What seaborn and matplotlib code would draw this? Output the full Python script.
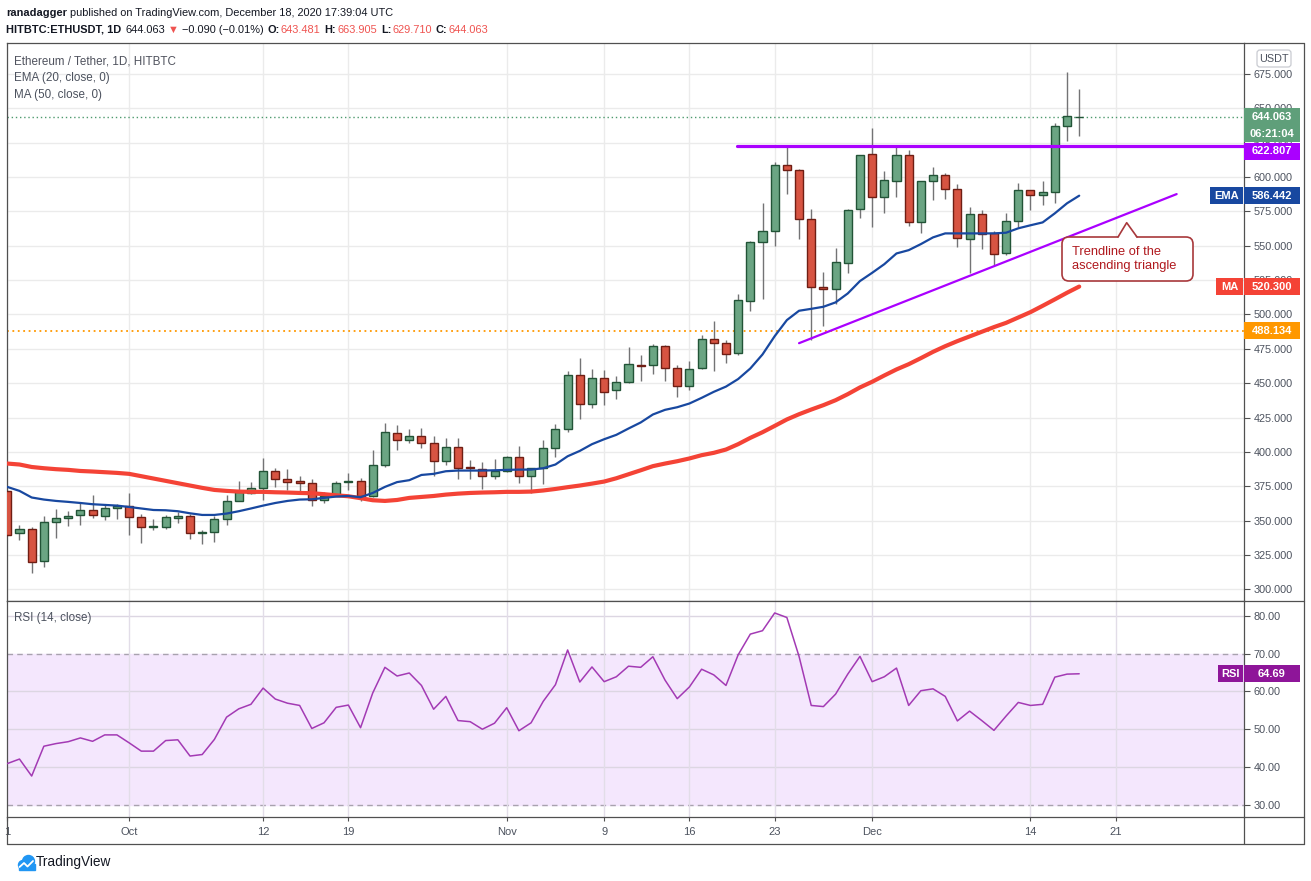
import numpy as np
import pandas as pd
import seaborn as sns
import matplotlib.pyplot as plt
from matplotlib.patches import Rectangle, FancyBboxPatch, Polygon, Circle
from matplotlib.lines import Line2D
from matplotlib.transforms import IdentityTransform

# ---- data (ETH/USDT daily, HitBTC) ----
dates = pd.date_range('2020-09-21', '2020-12-18', freq='D')
opens = [371.4, 340.6, 344.2, 320.9, 349.3, 352.2, 354.4, 358.0, 353.6, 359.5,
         360.4, 352.9, 345.4, 345.4, 352.2, 353.6, 340.6, 342.0, 350.8, 364.6,
         370.4, 374.0, 386.4, 380.6, 379.1, 377.7, 365.3, 368.2, 378.4, 379.1,
         368.2, 390.1, 413.4, 409.0, 411.9, 406.1, 393.0, 403.2, 388.8, 387.2,
         382.8, 386.4, 396.6, 382.8, 387.9, 402.5, 417.0, 456.3, 435.2, 454.1,
         444.7, 450.5, 462.9, 462.9, 476.7, 461.4, 448.3, 460.7, 482.5, 478.9,
         471.6, 509.5, 552.5, 560.5, 608.5, 604.9, 569.2, 519.7, 518.2, 537.2,
         576.5, 616.6, 585.3, 596.9, 615.8, 567.0, 596.9, 601.2, 591.0, 554.7,
         572.9, 559.0, 544.5, 567.7, 590.3, 586.7, 588.9, 636.9, 643.481]
highs = [372.0, 346.6, 345.0, 353.1, 358.2, 356.8, 362.8, 368.4, 362.4, 361.7,
         370.1, 354.6, 351.0, 354.4, 356.3, 355.0, 343.0, 353.1, 368.4, 378.6,
         377.9, 395.2, 387.9, 387.4, 382.3, 379.9, 370.6, 378.6, 384.7, 380.8,
         401.2, 421.1, 419.4, 416.5, 417.2, 411.4, 409.9, 409.9, 393.9, 392.5,
         394.7, 397.3, 404.6, 388.0, 408.3, 420.6, 458.5, 468.0, 460.0, 459.3,
         454.9, 476.2, 470.2, 478.2, 477.5, 462.9, 465.8, 484.7, 495.1, 481.3,
         514.8, 553.6, 581.1, 610.7, 623.3, 605.6, 576.5, 530.6, 548.3, 577.0,
         615.8, 635.7, 604.1, 623.3, 619.4, 597.0, 607.5, 602.7, 594.7, 578.0,
         575.8, 560.5, 573.6, 595.4, 590.8, 596.9, 639.1, 676.5, 663.905]
lows = [339.0, 336.2, 311.9, 316.0, 337.4, 346.0, 346.8, 352.0, 350.3, 350.9,
        339.3, 333.8, 343.2, 343.9, 348.3, 336.6, 333.0, 334.4, 346.8, 364.6,
        369.0, 364.8, 374.5, 372.0, 370.1, 360.6, 362.8, 367.7, 372.0, 364.3,
        366.8, 389.0, 401.2, 406.5, 402.9, 382.5, 390.1, 380.6, 380.6, 373.0,
        380.6, 385.0, 377.5, 370.1, 376.8, 396.3, 414.5, 423.8, 432.0, 434.2,
        438.6, 449.8, 451.7, 457.0, 451.7, 440.0, 445.1, 460.0, 459.0, 464.8,
        470.4, 502.6, 511.4, 550.0, 587.8, 555.1, 481.1, 491.7, 507.3, 530.3,
        570.4, 563.4, 574.0, 585.7, 564.5, 559.0, 583.5, 584.2, 549.3, 530.3,
        548.0, 535.7, 543.0, 563.4, 575.8, 579.4, 580.9, 626.4, 629.710]
closes = [339.8, 344.2, 320.2, 348.6, 352.2, 353.6, 357.5, 354.4, 359.5, 360.4,
          352.7, 345.4, 345.9, 352.9, 353.6, 341.3, 342.0, 350.8, 364.6, 370.6,
          374.0, 386.4, 380.6, 378.4, 377.7, 365.3, 368.2, 377.7, 379.1, 368.2,
          390.1, 414.1, 409.0, 411.9, 406.1, 393.0, 403.2, 388.6, 387.9, 382.8,
          386.4, 396.6, 382.8, 387.9, 402.5, 417.0, 456.3, 435.2, 454.1, 443.9,
          450.5, 463.6, 462.2, 476.7, 460.7, 448.3, 460.0, 482.5, 479.0, 470.9,
          510.2, 552.4, 560.4, 608.5, 604.9, 569.2, 519.7, 518.2, 537.9, 575.7,
          615.8, 585.3, 597.6, 615.8, 567.0, 596.9, 601.2, 591.0, 555.4, 572.9,
          558.3, 543.7, 567.7, 590.3, 586.7, 588.9, 636.9, 644.2, 644.063]
ema20 = [374.5, 371.6, 366.8, 365.3, 364.3, 363.6, 362.8, 361.9, 361.4, 360.9,
         359.9, 358.8, 357.7, 357.5, 356.8, 355.3, 354.1, 354.1, 355.1, 356.8,
         358.8, 360.9, 362.8, 364.3, 365.3, 365.5, 366.5, 367.5, 367.9, 367.0,
         370.1, 374.5, 378.0, 379.4, 383.2, 384.0, 385.9, 386.4, 386.4, 386.4,
         386.6, 386.9, 387.1, 387.1, 388.1, 390.8, 396.8, 400.7, 405.6, 409.2,
         412.4, 417.0, 421.4, 427.2, 430.6, 432.5, 435.2, 439.3, 443.7, 447.5,
         453.0, 460.7, 470.9, 484.2, 495.9, 502.7, 504.1, 505.6, 508.8, 515.3,
         524.3, 530.3, 536.6, 544.4, 546.8, 551.2, 556.1, 559.0, 559.0, 559.0,
         559.0, 559.0, 559.5, 562.7, 564.9, 567.0, 573.6, 580.9, 586.442]
ma50 = [391.5, 390.8, 389.0, 388.1, 387.4, 386.9, 386.1, 385.7, 385.2, 384.7,
        384.0, 382.3, 380.6, 378.9, 377.2, 375.5, 373.8, 372.3, 371.6, 371.1,
        370.9, 370.9, 370.6, 370.4, 370.1, 369.9, 369.2, 368.4, 367.7, 366.3,
        364.8, 364.3, 365.0, 366.5, 367.2, 367.9, 368.9, 369.6, 370.1, 370.4,
        370.6, 370.9, 370.9, 371.1, 371.9, 373.0, 374.3, 375.5, 376.9, 378.4,
        380.8, 383.7, 386.6, 389.6, 391.5, 393.2, 395.2, 397.6, 399.3, 401.7,
        405.6, 410.2, 414.3, 418.9, 423.6, 427.4, 430.8, 434.0, 437.6, 442.0,
        446.9, 451.0, 455.6, 460.0, 463.8, 468.2, 472.8, 476.9, 480.6, 484.0,
        487.4, 490.8, 493.9, 497.8, 501.7, 506.3, 511.0, 515.8, 520.300]
rsi14 = [40.9, 42.1, 37.6, 45.5, 46.2, 46.7, 47.7, 46.8, 48.5, 48.5,
         46.4, 44.2, 44.2, 47.0, 47.2, 42.9, 43.3, 47.3, 53.2, 55.4,
         56.6, 60.9, 58.0, 56.9, 56.3, 50.2, 51.7, 55.8, 56.4, 50.4,
         59.6, 66.4, 64.1, 64.9, 61.6, 55.3, 58.7, 52.3, 52.0, 50.0,
         51.6, 55.7, 49.6, 51.7, 57.4, 61.8, 71.0, 62.5, 66.5, 62.6,
         63.9, 66.7, 66.4, 69.2, 63.0, 58.1, 61.2, 65.9, 64.4, 61.6,
         69.7, 75.2, 76.1, 80.8, 79.6, 69.3, 56.3, 56.0, 59.3, 64.6,
         69.3, 62.6, 63.9, 66.2, 56.3, 60.2, 60.7, 58.7, 52.2, 54.8,
         52.3, 49.7, 53.5, 57.1, 56.3, 56.6, 63.8, 64.6, 64.69]

resistance = 622.807
resistance_from = '2020-11-20'
orange_level = 488.134
trend_dates = ['2020-11-25', '2020-12-26']
trend_prices = [479.1, 587.6]
tick_dates = ['2020-09-21', '2020-10-01', '2020-10-12', '2020-10-19', '2020-11-01',
              '2020-11-09', '2020-11-16', '2020-11-23', '2020-12-01', '2020-12-14',
              '2020-12-21']
tick_labels = ['1', 'Oct', '12', '19', 'Nov', '9', '16', '23', 'Dec', '14', '21']

df = pd.DataFrame({'date': dates, 'open': opens, 'high': highs, 'low': lows,
                   'close': closes, 'ema': ema20, 'ma': ma50, 'rsi': rsi14})
df['x'] = (df['date'] - dates[0]).dt.days


def day_index(d):
    return (pd.Timestamp(d) - dates[0]).days


# ---- figure layout in pixels ----
W, H = 1311, 881
sns.set_theme(style='white')
plt.rcParams['font.family'] = ['Liberation Sans', 'DejaVu Sans']
TXT = '#4c525e'
GRID = '#ebebeb'
FRAME = '#505050'

fig = plt.figure(figsize=(W / 100, H / 100), dpi=100)
fig.patch.set_facecolor('white')
PIX = IdentityTransform()


def fx(px):
    return px / W


def fy(py):
    return 1 - py / H


L, R = 6.7, 1244
ax = fig.add_axes([fx(L), fy(601), fx(R) - fx(L), fy(43) - fy(601)])
axr = fig.add_axes([fx(L), fy(817), fx(R) - fx(L), fy(601) - fy(817)], sharex=ax)

# ---- price pane ----
ax.set_axisbelow(True)
up = df['close'] >= df['open']
body = (df['close'] - df['open']).abs().clip(lower=0.5)
ax.vlines(df['x'], df['low'], df['high'], color='#737375', lw=1, zorder=2)
ax.bar(df['x'][up], body[up], bottom=df['open'][up], width=0.66,
       color='#6ba583', edgecolor='#225437', linewidth=1, zorder=3)
ax.bar(df['x'][~up], body[~up], bottom=df['close'][~up], width=0.66,
       color='#d75442', edgecolor='#6f1e14', linewidth=1, zorder=3)

sns.lineplot(data=df, x='x', y='ma', ax=ax, color='#f44336', lw=3, zorder=4)
sns.lineplot(data=df, x='x', y='ema', ax=ax, color='#1848a0', lw=1.6, zorder=5)

ax.axhline(closes[-1], color='#4e9a6e', ls=(0, (1, 2)), lw=1, zorder=1)
ax.axhline(orange_level, color='#ff9800', ls=(0, (1, 2)), lw=1.3, zorder=1)

res_x0 = day_index(resistance_from) - 0.1
sns.lineplot(x=[res_x0, 110], y=[resistance, resistance], ax=ax,
             color='#aa00ff', lw=2.3, zorder=6)
sns.lineplot(x=[day_index(d) for d in trend_dates], y=trend_prices, ax=ax,
             color='#aa00ff', lw=1.6, zorder=6)

ax.set_xlim(-0.05, 101.53)
ax.set_ylim(291.47, 697.56)
ax.set_yticks(np.arange(300, 700, 25))
ax.set_yticklabels([f'{v:.3f}' for v in np.arange(300, 700, 25)])
ax.yaxis.tick_right()
ax.tick_params(axis='y', right=True, length=4, width=0.8, color=FRAME,
               labelsize=7.8, labelcolor=TXT, pad=3)
ax.tick_params(axis='x', bottom=False, labelbottom=False)
ax.grid(True, color=GRID, lw=1)
ax.set_xlabel('')
ax.set_ylabel('')

# ---- RSI pane ----
axr.set_axisbelow(True)
axr.axhspan(30, 70, color='#f4e7fd', zorder=0)
for lvl in [40, 50, 60, 80]:
    axr.axhline(lvl, color='#dcd6e2', lw=1, zorder=1)
for lvl in [30, 70]:
    axr.axhline(lvl, color='#a8a2ae', lw=1, ls=(0, (4, 3)), zorder=1)
for d in tick_dates[1:]:
    axr.axvline(day_index(d), color='#e2dde8', lw=1, zorder=1)
sns.lineplot(data=df, x='x', y='rsi', ax=axr, color='#a33ab4', lw=1.1, zorder=3)
axr.set_ylim(26.75, 83.97)
axr.set_yticks([30, 40, 50, 60, 70, 80])
axr.set_yticklabels([f'{v:.2f}' for v in [30, 40, 50, 60, 70, 80]])
axr.yaxis.tick_right()
axr.tick_params(axis='y', right=True, length=4, width=0.8, color=FRAME,
                labelsize=7.8, labelcolor=TXT, pad=3)
axr.set_xticks([day_index(d) for d in tick_dates])
axr.set_xticklabels(tick_labels)
axr.tick_params(axis='x', bottom=True, length=3, width=0.8, color=FRAME,
                labelsize=8, labelcolor=TXT, pad=4)
axr.set_xlabel('')
axr.set_ylabel('')

for a in (ax, axr):
    for s in a.spines.values():
        s.set_color(FRAME)
        s.set_linewidth(0.9)

# outer frame pieces (axis strip and time strip)
for (x0, y0, x1, y1) in [(R, 43, 1304, 43), (R, 601, 1304, 601), (R, 817, 1304, 817),
                         (L, 844, 1304, 844), (1304, 43, 1304, 844),
                         (L, 817, L, 844), (R, 817, R, 844)]:
    fig.add_artist(Line2D([x0, x1], [H - y0, H - y1], transform=PIX,
                          color=FRAME, lw=0.9))


# ---- header texts ----
def ptext(px, py, s, **kw):
    kw.setdefault('va', 'center')
    kw.setdefault('ha', 'left')
    return fig.text(px, H - py, s, transform=PIX, **kw)


renderer = fig.canvas.get_renderer()


def text_run(px, py, parts, size):
    # lay out coloured pieces one after another on a line
    for s, col, bold, gap in parts:
        t = ptext(px, py, s, fontsize=size, color=col,
                  fontweight='bold' if bold else 'normal')
        px = t.get_window_extent(renderer).x1 + gap


DARK = '#131722'
RED = '#ef5350'
text_run(6, 13, [('ranadagger', DARK, True, 3),
                 ('published on TradingView.com, December 18, 2020 17:39:04 UTC', DARK, False, 0)],
         7.9)
text_run(6, 30, [('HITBTC:ETHUSDT, 1D', DARK, True, 4), ('644.063', DARK, False, 3),
                 ('▼', RED, False, 3), ('−0.090 (−0.01%)', DARK, False, 4),
                 ('O:', DARK, True, 1), ('643.481', RED, False, 4),
                 ('H:', DARK, True, 1), ('663.905', RED, False, 4),
                 ('L:', DARK, True, 1), ('629.710', RED, False, 4),
                 ('C:', DARK, True, 1), ('644.063', RED, False, 0)],
         7.9)

ptext(14, 61, 'Ethereum / Tether, 1D, HITBTC', fontsize=8.4, color='#50535e')
ptext(14, 78, 'EMA (20, close, 0)', fontsize=8.4, color=TXT)
ptext(14, 95, 'MA (50, close, 0)', fontsize=8.4, color=TXT)
ptext(14, 618, 'RSI (14, close)', fontsize=8.4, color=TXT)


# ---- price tags on the right scale ----
def tag(pyc, s, color, label=None, lx=None):
    fig.add_artist(Rectangle((R, H - pyc - 8.5), 56, 17, transform=PIX,
                             facecolor=color, edgecolor='none', zorder=5))
    ptext(R + 28, pyc, s, ha='center', fontsize=8, color='white',
          fontweight='bold', zorder=6)
    if label:
        fig.add_artist(Rectangle((lx, H - pyc - 8.5), R - 1 - lx, 17, transform=PIX,
                                 facecolor=color, edgecolor='none', zorder=5))
        ptext((lx + R - 1) / 2, pyc, label, ha='center', fontsize=8, color='white',
              fontweight='bold', zorder=6)


def price_py(p, a=ax):
    return H - a.transData.transform((0, p))[1]


tag(price_py(closes[-1]), f'{closes[-1]:.3f}', '#5f9f7a')
tag(price_py(closes[-1]) + 17.3, '06:21:04', '#5f9f7a')
tag(price_py(closes[-1]) + 34.6, f'{resistance:.3f}', '#aa00ff')
tag(price_py(ema20[-1]), f'{ema20[-1]:.3f}', '#1848a0', 'EMA', 1210)
tag(price_py(ma50[-1]), f'{ma50[-1]:.3f}', '#f44336', 'MA', 1216)
tag(price_py(orange_level), f'{orange_level:.3f}', '#ff9800')
tag(price_py(rsi14[-1], axr), f'{rsi14[-1]:.2f}', '#8e1599', 'RSI', 1218)

fig.add_artist(FancyBboxPatch((1257, H - 67), 34, 17, transform=PIX,
                              boxstyle='round,pad=0,rounding_size=3',
                              facecolor='white', edgecolor='#c9cbd1', lw=0.9, zorder=5))
ptext(1274, 58.5, 'USDT', ha='center', fontsize=7.8, color=TXT, zorder=6)

# ---- callout for the trendline ----
fig.add_artist(FancyBboxPatch((1062, H - 281), 131, 44, transform=PIX,
                              boxstyle='round,pad=0,rounding_size=7',
                              facecolor='white', edgecolor='#a8383b', lw=1.2, zorder=7))
fig.add_artist(Polygon([(1118, H - 238.5), (1126.7, H - 222.7), (1137, H - 238.5)],
                       closed=True, transform=PIX, facecolor='white',
                       edgecolor='none', zorder=8))
fig.add_artist(Line2D([1118, 1126.7, 1137], [H - 237, H - 222.7, H - 237],
                      transform=PIX, color='#a8383b', lw=1.2, zorder=9))
ptext(1072, 252, 'Trendline of the', fontsize=9.3, color='#b0191e', zorder=9)
ptext(1072, 265.5, 'ascending triangle', fontsize=9.3, color='#b0191e', zorder=9)

# ---- TradingView logo ----
BLUE = '#2196f3'
fig.add_artist(Circle((23, H - 865), 4.5, transform=PIX, color=BLUE, zorder=5))
fig.add_artist(Circle((28.5, H - 861.5), 6, transform=PIX, color=BLUE, zorder=5))
fig.add_artist(Rectangle((18.5, H - 870), 16, 6, transform=PIX, color=BLUE, zorder=5))
fig.add_artist(Line2D([19.5, 24, 27.5, 33], [H - 867, H - 863, H - 866.5, H - 861],
                      transform=PIX, color='white', lw=1.3, zorder=6))
ptext(36, 862, 'TradingView', fontsize=9.8, color=DARK)

fig.savefig('out.png', dpi=100)
